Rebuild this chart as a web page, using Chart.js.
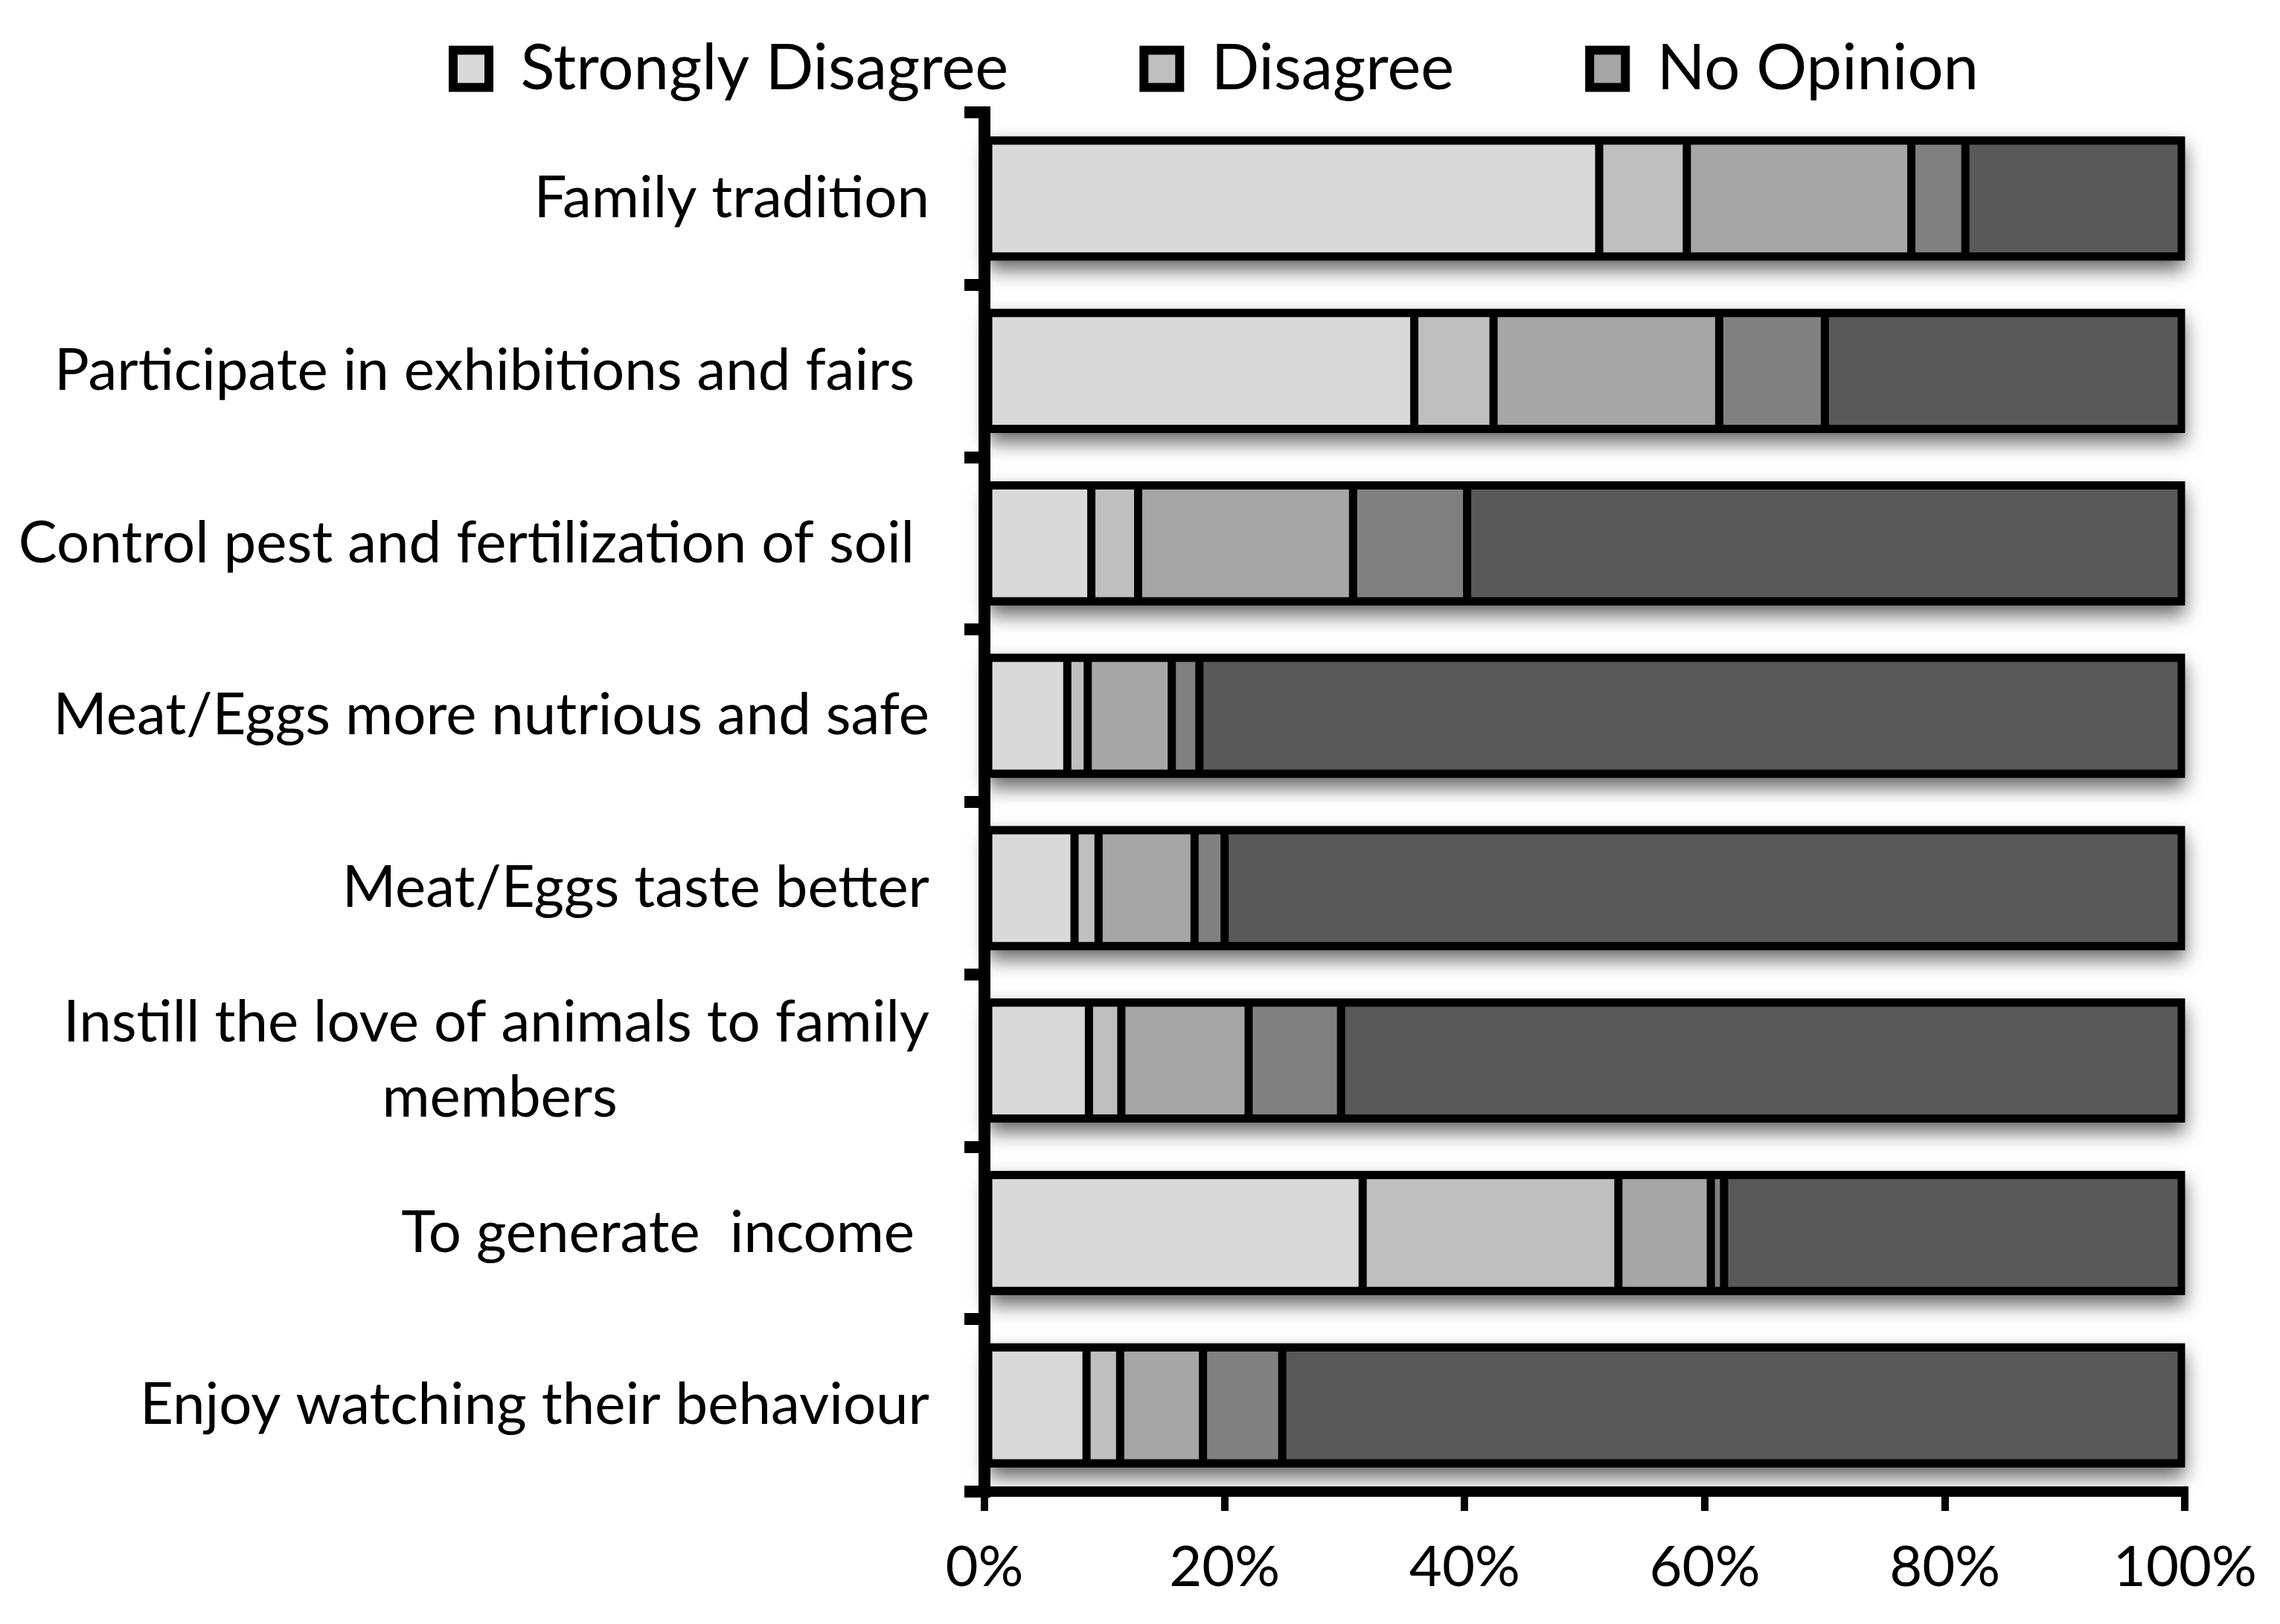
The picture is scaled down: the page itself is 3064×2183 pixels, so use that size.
<!DOCTYPE html>
<html>
<head>
<meta charset="utf-8">
<script src="https://cdn.jsdelivr.net/npm/chart.js@4.4.0/dist/chart.umd.min.js"></script>
<style>
html, body { margin: 0; padding: 0; background: #ffffff; }
#wrap { width: 3064px; height: 2183px; }
</style>
</head>
<body>
<div id="wrap"><canvas id="c" width="3064" height="2183"></canvas></div>
<script>
// ---- data ----
const categories = [
  'Family tradition',
  'Participate in exhibitions and fairs ',
  'Control pest and fertilization of soil ',
  'Meat/Eggs more nutrious and safe',
  'Meat/Eggs taste better',
  ['Instill the love of animals to family', 'members'],
  'To generate  income ',
  'Enjoy watching their behaviour'
];
const seriesNames = ['Strongly Disagree', 'Disagree', 'No Opinion', 'Agree', 'Strongly Agree'];
const stronglyDisagree = [51.2, 35.8, 8.9, 6.9, 7.5, 8.7, 31.5, 8.5];
const disagree         = [7.3, 6.6, 3.9, 1.7, 2.0, 2.7, 21.3, 2.8];
const noOpinion        = [18.7, 18.8, 17.9, 7.0, 8.0, 10.6, 7.7, 6.9];
const agree            = [4.5, 8.8, 9.5, 2.3, 2.5, 7.7, 1.1, 6.6];
const stronglyAgree    = [18.3, 30.0, 59.8, 82.1, 80.0, 70.3, 38.4, 75.2];
const xTickValues = [0, 20, 40, 60, 80, 100];
const legendShown = 3;

// ---- styles ----
const FONT = 'Lato';
const fills = ['#d9d9d9', '#bfbfbf', '#a6a6a6', '#808080', '#595959'];
const seriesValues = [stronglyDisagree, disagree, noOpinion, agree, stronglyAgree];

// center second line of a wrapped label under the first (right-aligned text)
const labelFontSize = 78;
function centerWrapped(lbls) {
  const m = document.createElement('canvas').getContext('2d');
  m.font = labelFontSize + 'px ' + FONT;
  const sp = m.measureText(' ').width;
  return lbls.map(l => {
    if (!Array.isArray(l)) return l;
    const w0 = m.measureText(l[0]).width;
    return l.map((line, i) => {
      if (i === 0) return line;
      const w = m.measureText(line).width;
      const n = Math.max(0, Math.round((w0 - w) / 2 / sp));
      return line + ' '.repeat(n);
    });
  });
}

const datasets = seriesNames.map((name, i) => ({
  label: name,
  data: seriesValues[i],
  backgroundColor: fills[i],
  borderColor: '#000000',
  borderWidth: { top: 11, bottom: 11, left: 5.5, right: i === seriesNames.length - 1 ? 10 : 5.5 },
  borderSkipped: false,
  barPercentage: 0.72,
  categoryPercentage: 1.0
}));

const shadowPlugin = {
  id: 'barShadow',
  beforeDatasetsDraw(chart) {
    const ctx = chart.ctx;
    const first = chart.getDatasetMeta(0).data;
    const last = chart.getDatasetMeta(chart.data.datasets.length - 1).data;
    ctx.save();
    ctx.shadowColor = 'rgba(0,0,0,0.6)';
    ctx.shadowBlur = 24;
    ctx.shadowOffsetY = 13;
    ctx.fillStyle = '#000000';
    first.forEach((el, i) => {
      const a = el.getProps(['x', 'y', 'base', 'height'], true);
      const b = last[i].getProps(['x'], true);
      ctx.fillRect(a.base, a.y - a.height / 2, b.x - a.base, a.height);
    });
    ctx.restore();
  }
};

// shift the legend block to where it sits in the original figure
const legendShift = { dx: 158, dy: -6 };
const legendShiftPlugin = {
  id: 'legendShift',
  afterLayout(chart) {
    const lg = chart.legend;
    if (!lg) return;
    lg.left += legendShift.dx; lg.right += legendShift.dx;
    lg.top += legendShift.dy; lg.bottom += legendShift.dy;
  }
};

const legendGapSpaces = 8;

new Chart(document.getElementById('c'), {
  type: 'bar',
  data: { labels: centerWrapped(categories), datasets: datasets },
  plugins: [shadowPlugin, legendShiftPlugin],
  options: {
    indexAxis: 'y',
    responsive: false,
    devicePixelRatio: 1,
    animation: false,
    layout: { padding: { left: 0, right: 112, top: 48, bottom: 0 } },
    plugins: {
      tooltip: { enabled: false },
      legend: {
        position: 'top',
        align: 'center',
        labels: {
          font: { family: FONT, size: 85 },
          color: '#000000',
          boxWidth: 48,
          boxHeight: 50,
          padding: 8,
          generateLabels(chart) {
            const items = Chart.defaults.plugins.legend.labels.generateLabels(chart)
              .filter(it => it.datasetIndex < legendShown);
            items.forEach((it, k) => {
              it.lineWidth = 12;
              it.strokeStyle = '#000000';
              if (k < items.length - 1) it.text = it.text + ' '.repeat(legendGapSpaces);
            });
            return items;
          }
        }
      }
    },
    scales: {
      x: {
        type: 'linear',
        stacked: true,
        min: 0,
        max: 100,
        position: 'bottom',
        afterBuildTicks(s) { s.ticks = xTickValues.map(v => ({ value: v })); },
        afterFit(s) { s.height = 178; },
        ticks: {
          callback: v => v + '%',
          font: { family: FONT, size: 76 },
          color: '#000000',
          padding: 31,
          maxRotation: 0
        },
        grid: { drawOnChartArea: false, drawTicks: true, tickLength: 26, lineWidth: 10, color: '#000000' },
        border: { display: true, width: 14, color: '#000000' }
      },
      y: {
        type: 'category',
        stacked: true,
        position: 'left',
        z: 1,
        afterFit(s) { s.width = 1323; },
        ticks: {
          font: { family: FONT, size: labelFontSize, lineHeight: 1.3 },
          color: '#000000',
          padding: 47
        },
        grid: { offset: true, drawOnChartArea: false, drawTicks: true, tickLength: 27, lineWidth: 16, color: '#000000' },
        border: { display: true, width: 16, color: '#000000' }
      }
    }
  }
});
</script>
</body>
</html>
